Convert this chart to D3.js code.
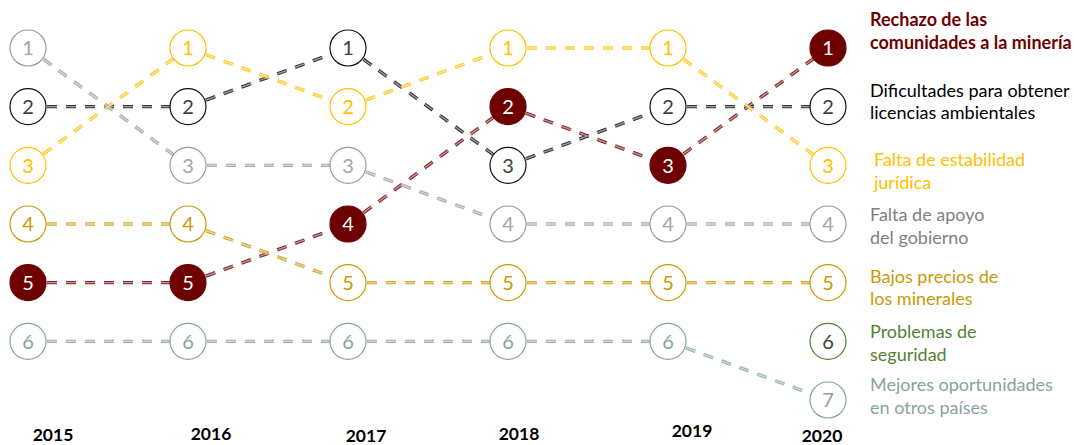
<!DOCTYPE html>
<html>
<head>
	<meta charset="utf-8">
	<title>Ranking de obstáculos</title>
	<style>
		body {
			margin: 0;
			background: white;
			font-family: 'Lato', 'Open Sans', sans-serif;
		}
		svg {
			display: block;
		}
	</style>
</head>
<body>
	<svg width='1074' height='445'></svg>
<script src='https://d3js.org/d3.v7.min.js'></script>
<script>

	// years on the x axis
	let years = ['2015', '2016', '2017', '2018', '2019', '2020']

	// series names, split in two lines as in the legend
	let labelLines = [
		['Rechazo de las', 'comunidades a la minería'],
		['Dificultades para obtener', 'licencias ambientales'],
		['Falta de estabilidad', 'jurídica'],
		['Falta de apoyo', 'del gobierno'],
		['Bajos precios de', 'los minerales'],
		['Problemas de', 'seguridad'],
		['Mejores oportunidades', 'en otros países']
	]

	// rank of each series per year (null = not in the ranking that year)
	let rechazo      = [5, 5, 4, 2, 3, 1]
	let licencias    = [2, 2, 1, 3, 2, 2]
	let estabilidad  = [3, 1, 2, 1, 1, 3]
	let apoyo        = [1, 3, 3, 4, 4, 4]
	let precios      = [4, 4, 5, 5, 5, 5]
	let seguridad    = [null, null, null, null, null, 6]
	let oportunidad  = [6, 6, 6, 6, 6, 7]

	let ranks = [rechazo, licencias, estabilidad, apoyo, precios, seguridad, oportunidad]

	let colors = ['#6e0000', '#111111', '#ffc000', '#9a9a9a', '#c99a06', '#548235', '#87a3a3']
	// filled circles only for the highlighted series
	let filled = [true, false, false, false, false, false, false]
	let numColors = ['#ffffff', '#404040', '#ffc000', '#a6a6a6', '#c99a06', '#404040', '#87a3a3']
	let labelColors = ['#6e0000', '#000000', '#ffc000', '#7f7f7f', '#c99a06', '#548235', '#87a3a3']

	let width = 1074
	let height = 445
	let r = 18

	// small hand placement of the labels, as in the original slide
	let labelDy = [-22, -10, 1, -3, 0, -3, -9]
	let labelDx = [0, 0, 4, 0, 0, 0, 0]
	let yearDx = [25, 23, 18, 11, 24, -6]
	let yearY = [441, 440, 442, 440, 437, 442]

	let svg = d3.select('svg')

	let x = d3.scalePoint()
		.domain(years)
		.range([28, 828])

	let y = d3.scaleLinear()
		.domain([1, 7])
		.range([48, 400])

	// build line segments between consecutive years
	let segments = []
	ranks.forEach((row, i) => {
		for (let k = 0; k < row.length - 1; k++) {
			if (row[k] != null && row[k + 1] != null) {
				segments.push({ s: i, y0: years[k], y1: years[k + 1], a: row[k], b: row[k + 1] })
			}
		}
	})

	let lines = svg.append('g')

	// outer dash (colored) then inner dash (lighter) to get the outlined look
	lines.selectAll('.outer')
		.data(segments)
		.join('line')
		.attr('x1', d => x(d.y0))
		.attr('y1', d => y(d.a))
		.attr('x2', d => x(d.y1))
		.attr('y2', d => y(d.b))
		.style('stroke', d => colors[d.s])
		.style('stroke-width', 3.4)
		.style('stroke-dasharray', '10,9')
		.style('opacity', 0.85)

	lines.selectAll('.inner')
		.data(segments)
		.join('line')
		.attr('x1', d => x(d.y0))
		.attr('y1', d => y(d.a))
		.attr('x2', d => x(d.y1))
		.attr('y2', d => y(d.b))
		.style('stroke', d => d3.interpolateRgb(colors[d.s], '#ffffff')(0.6))
		.style('stroke-width', 1.3)
		.style('stroke-dasharray', '10,9')

	// circles with their rank number
	let points = []
	ranks.forEach((row, i) => {
		row.forEach((v, k) => {
			if (v != null) points.push({ s: i, year: years[k], rank: v })
		})
	})

	let nodes = svg.append('g')
		.selectAll('g')
		.data(points)
		.join('g')
		.attr('transform', d => `translate(${x(d.year)},${y(d.rank)})`)

	nodes.append('circle')
		.attr('r', r)
		.style('fill', d => filled[d.s] ? colors[d.s] : 'white')
		.style('stroke', d => colors[d.s])
		.style('stroke-width', 1.2)

	nodes.append('text')
		.attr('text-anchor', 'middle')
		.attr('dy', '0.36em')
		.style('font-size', '20px')
		.style('fill', d => numColors[d.s])
		.text(d => d.rank)

	// legend labels to the right of the 2020 column
	let lastRanks = ranks.map(row => row[row.length - 1])
	let legend = svg.append('g')
		.selectAll('text')
		.data(labelLines)
		.join('text')
		.attr('x', (d, i) => 870 + labelDx[i])
		.attr('y', (d, i) => y(lastRanks[i]) + labelDy[i])
		.style('font-size', '18px')
		.style('font-weight', (d, i) => i == 0 ? 'bold' : 'normal')
		.style('fill', (d, i) => labelColors[i])

	legend.selectAll('tspan')
		.data(d => d)
		.join('tspan')
		.attr('x', function () { return this.parentNode.getAttribute('x') })
		.attr('dy', (d, j) => j == 0 ? 0 : 22.5)
		.text(d => d)

	// year labels
	svg.append('g')
		.selectAll('text')
		.data(years)
		.join('text')
		.attr('x', (d, i) => x(d) + yearDx[i])
		.attr('y', (d, i) => yearY[i])
		.attr('text-anchor', 'middle')
		.style('font-size', '17.5px')
		.style('font-weight', 'bold')
		.style('fill', '#000')
		.text(d => d)

</script>
</body>
</html>
